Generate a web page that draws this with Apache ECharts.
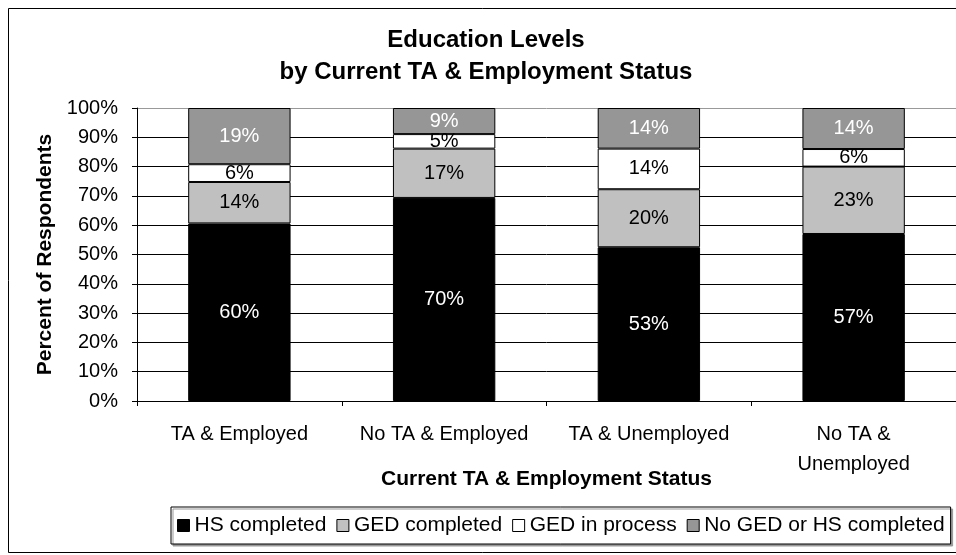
<!DOCTYPE html>
<html>
<head>
<meta charset="utf-8">
<script src="https://cdn.jsdelivr.net/npm/echarts@6/dist/echarts.min.js"></script>
<style>
html,body{margin:0;padding:0;background:#fff;}
#c{width:956px;height:555px;}
</style>
</head>
<body>
<div id="c"></div>
<script>
var categories = ['TA & Employed', 'No TA & Employed', 'TA & Unemployed', 'No TA &\nUnemployed'];
var hsCompleted = [60, 70, 53, 57];
var gedCompleted = [14, 17, 20, 23];
var gedInProcess = [6, 5, 14, 6];
var noGedOrHs = [19, 9, 14, 14];
var seriesNames = ['HS completed', 'GED completed', 'GED in process', 'No GED or HS completed'];
var yTicks = ['0%','10%','20%','30%','40%','50%','60%','70%','80%','90%','100%'];

var raw = [hsCompleted, gedCompleted, gedInProcess, noGedOrHs];
// 100% stacked: each segment's share of its column total
var totals = categories.map(function (c, i) {
  return raw.reduce(function (s, arr) { return s + arr[i]; }, 0);
});
var colors = ['#000000', '#c0c0c0', '#ffffff', '#969696'];
var labelColors = ['#ffffff', '#000000', '#000000', '#ffffff'];
var FONT = 'Liberation Sans, Arial, sans-serif';

var series = raw.map(function (arr, k) {
  return {
    name: seriesNames[k],
    type: 'bar',
    stack: 'total',
    barWidth: '50%',
    data: arr.map(function (v, i) { return v / totals[i] * 100; }),
    itemStyle: { color: colors[k], borderColor: '#000', borderWidth: 1 },
    label: {
      show: true,
      position: 'inside',
      color: labelColors[k],
      fontFamily: FONT,
      fontSize: 20,
      formatter: function (p) { return arr[p.dataIndex] + '%'; }
    },
    emphasis: { disabled: true }
  };
});

var gridColors = yTicks.map(function (t, i) { return i === yTicks.length - 1 ? '#999999' : '#000000'; });

var chart = echarts.init(document.getElementById('c'), null, { renderer: 'canvas' });
chart.setOption({
  animation: false,
  backgroundColor: '#ffffff',
  textStyle: { fontFamily: FONT },
  title: {
    text: 'Education Levels\nby Current TA & Employment Status',
    left: 481,
    textAlign: 'center',
    top: 19,
    textStyle: { fontFamily: FONT, fontSize: 24, fontWeight: 'bold', color: '#000', lineHeight: 32 }
  },
  grid: { left: 137, right: -5, top: 108, bottom: 154, containLabel: false },
  xAxis: {
    type: 'category',
    data: categories,
    name: 'Current TA & Employment Status',
    nameLocation: 'middle',
    nameGap: 68,
    nameMoveOverlap: false,
    nameTextStyle: { fontFamily: FONT, fontSize: 21, fontWeight: 'bold', color: '#000' },
    axisLine: { lineStyle: { color: '#000', width: 1 } },
    axisTick: { show: true, length: 5, lineStyle: { color: '#000' } },
    axisLabel: { fontFamily: FONT, fontSize: 20, color: '#000', lineHeight: 30, margin: 18, interval: 0 }
  },
  yAxis: {
    type: 'value',
    min: 0,
    max: 100,
    interval: 10,
    name: 'Percent of Respondents',
    nameLocation: 'middle',
    nameGap: 81,
    nameRotate: 90,
    nameMoveOverlap: false,
    nameTextStyle: { fontFamily: FONT, fontSize: 21, fontWeight: 'bold', color: '#000' },
    axisLine: { show: true, lineStyle: { color: '#000', width: 1 } },
    axisTick: { show: true, length: 5, lineStyle: { color: '#000' } },
    axisLabel: {
      fontFamily: FONT, fontSize: 20, color: '#000', margin: 19,
      formatter: function (v) { return yTicks[Math.round(v / 10)]; }
    },
    splitLine: { show: true, lineStyle: { color: gridColors, width: 1 } }
  },
  legend: {
    data: seriesNames,
    left: 171,
    top: 507,
    orient: 'horizontal',
    icon: 'rect',
    itemWidth: 12,
    itemHeight: 12,
    itemGap: 10,
    padding: [8, 6, 8, 6],
    borderColor: '#000',
    borderWidth: 1,
    backgroundColor: '#fff',
    shadowColor: '#999',
    shadowOffsetX: 2,
    shadowOffsetY: 2,
    shadowBlur: 0,
    textStyle: { fontFamily: FONT, fontSize: 21, color: '#000', padding: [0, 0, 0, 0] },
    itemStyle: { borderColor: '#000', borderWidth: 1 },
    selectedMode: false
  },
  graphic: [{
    type: 'rect',
    shape: { x: 8.5, y: 8.5, width: 960, height: 544 },
    style: { fill: null, stroke: '#000', lineWidth: 1 },
    silent: true,
    z: 100
  }],
  series: series
});
</script>
</body>
</html>
